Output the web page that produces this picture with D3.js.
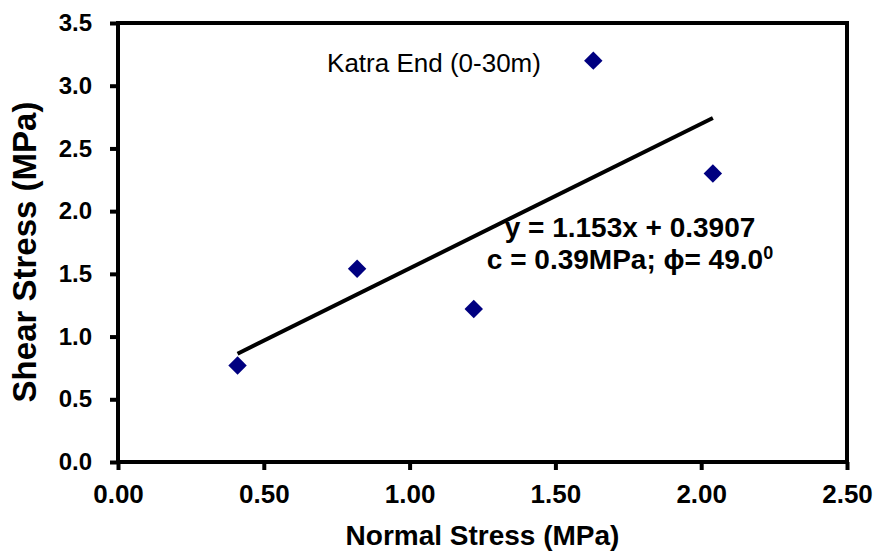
<!DOCTYPE html>
<html>
<head>
<meta charset="utf-8">
<script src="https://cdn.jsdelivr.net/npm/d3@7"></script>
<style>
  body { margin: 0; background: #fff; }
  svg text { font-family: "Liberation Sans", Arial, sans-serif; }
</style>
</head>
<body>
<div id="chart"></div>
<script>
// data
const normalStress = [0.41, 0.82, 1.22, 1.63, 2.04];
const shearStress  = [0.77, 1.54, 1.22, 3.20, 2.30];
const fitSlope = 1.153;
const fitIntercept = 0.3907;
const xTicks = [0, 0.5, 1.0, 1.5, 2.0, 2.5];
const yTicks = [0, 0.5, 1.0, 1.5, 2.0, 2.5, 3.0, 3.5];
const eqLine1 = "y = 1.153x + 0.3907";
const eqLine2 = "c = 0.39MPa; \u03D5= 49.0";
const seriesLabel = "Katra End (0-30m)";

let w = 879, h = 551;
let margin = {top: 23, right: 32, bottom: 89, left: 118};

let svg = d3.select("#chart").append("svg")
  .attr("width", w)
  .attr("height", h)
  .style("background", "#fff");

let x = d3.scaleLinear().domain([0, 2.5]).range([margin.left, w - margin.right]);
let y = d3.scaleLinear().domain([0, 3.5]).range([h - margin.bottom, margin.top]);

let points = normalStress.map((d, i) => ({x: d, y: shearStress[i]}));

// x axis
let xAxisG = svg.append("g")
  .attr("transform", "translate(0," + y(0) + ")")
  .call(d3.axisBottom(x).tickValues(xTicks).tickFormat(d3.format(".2f"))
    .tickSize(8).tickSizeOuter(0).tickPadding(15));

// y axis
let yAxisG = svg.append("g")
  .attr("transform", "translate(" + x(0) + ",0)")
  .call(d3.axisLeft(y).tickValues(yTicks).tickFormat(d3.format(".1f"))
    .tickSize(8).tickSizeOuter(0).tickPadding(18));

[xAxisG, yAxisG].forEach(g => {
  g.select(".domain").remove();
  g.selectAll(".tick line").attr("stroke", "#000").attr("stroke-width", 4);
  g.selectAll(".tick text")
    .attr("fill", "#000")
    .style("font-weight", "bold");
});
xAxisG.selectAll(".tick text").style("font-size", "26px");
yAxisG.selectAll(".tick text").style("font-size", "24px");

// plot frame
svg.append("rect")
  .attr("x", x(0))
  .attr("y", y(3.5))
  .attr("width", x(2.5) - x(0))
  .attr("height", y(0) - y(3.5))
  .attr("fill", "none")
  .attr("stroke", "#000")
  .attr("stroke-width", 4);

// trend line
let xExt = d3.extent(normalStress);
let fitLine = d3.line().x(d => x(d)).y(d => y(fitSlope * d + fitIntercept));
svg.append("path")
  .datum(xExt)
  .attr("d", fitLine)
  .attr("fill", "none")
  .attr("stroke", "#000")
  .attr("stroke-width", 4);

// markers
let diamond = d3.symbol().type(d3.symbolSquare).size(170);
svg.selectAll(".pt").data(points).enter()
  .append("path")
  .attr("class", "pt")
  .attr("d", diamond)
  .attr("transform", d => "translate(" + x(d.x) + "," + y(d.y) + ") rotate(45)")
  .attr("fill", "#000080");

// series label
svg.append("text")
  .attr("x", 434)
  .attr("y", 72)
  .attr("text-anchor", "middle")
  .style("font-size", "26px")
  .attr("fill", "#000")
  .text(seriesLabel);

// equation
let eq = svg.append("text")
  .attr("x", 630)
  .attr("y", 237)
  .attr("text-anchor", "middle")
  .style("font-size", "28px")
  .style("font-weight", "bold")
  .attr("fill", "#000");
eq.append("tspan").attr("x", 630).text(eqLine1);
eq.append("tspan").attr("x", 630).attr("dy", 32).text(eqLine2);
eq.append("tspan").attr("dy", -10).style("font-size", "18px").text("0");

// axis titles
svg.append("text")
  .attr("x", (x(0) + x(2.5)) / 2)
  .attr("y", 545)
  .attr("text-anchor", "middle")
  .style("font-size", "28px")
  .style("font-weight", "bold")
  .attr("fill", "#000")
  .text("Normal Stress (MPa)");

svg.append("text")
  .attr("transform", "translate(36," + 252 + ") rotate(-90)")
  .attr("text-anchor", "middle")
  .style("font-size", "33px")
  .style("font-weight", "bold")
  .attr("fill", "#000")
  .text("Shear Stress (MPa)");
</script>
</body>
</html>
